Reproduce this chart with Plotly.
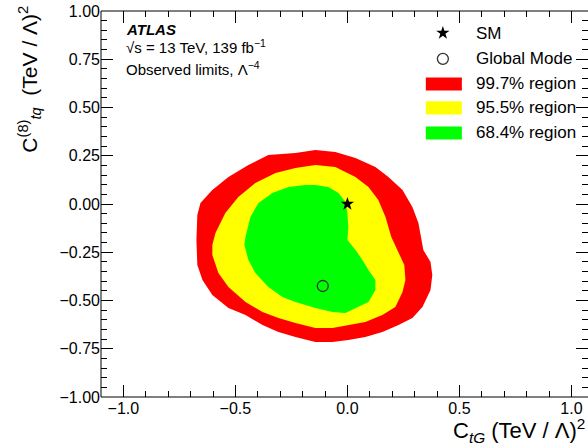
import plotly.graph_objects as go

# ---- data ----
red_x = [-0.143, -0.054, 0.036, 0.125, 0.183, 0.246, 0.290, 0.317, 0.339, 0.371, 0.379, 0.371, 0.335, 0.290,
         0.228, 0.156, 0.080, 0.004, -0.067, -0.143, -0.232, -0.308, -0.379, -0.455, -0.531, -0.603, -0.647,
         -0.670, -0.674, -0.670, -0.656, -0.603, -0.531, -0.442, -0.353, -0.232]
red_y = [0.280, 0.269, 0.238, 0.192, 0.140, 0.073, -0.016, -0.098, -0.238, -0.301, -0.368, -0.446, -0.534, -0.591,
         -0.627, -0.663, -0.689, -0.705, -0.715, -0.715, -0.689, -0.663, -0.627, -0.575, -0.539, -0.472, -0.394,
         -0.316, -0.187, -0.057, 0.005, 0.073, 0.140, 0.202, 0.254, 0.264]

yel_x = [-0.143, -0.054, 0.036, 0.094, 0.138, 0.170, 0.196, 0.223, 0.254, 0.259, 0.246, 0.214, 0.156, 0.080,
         0.004, -0.067, -0.143, -0.232, -0.308, -0.379, -0.455, -0.531, -0.576, -0.603, -0.603, -0.589, -0.545,
         -0.487, -0.411, -0.321, -0.232]
yel_y = [0.202, 0.192, 0.140, 0.088, 0.021, -0.067, -0.171, -0.238, -0.316, -0.394, -0.456, -0.534, -0.575, -0.611,
         -0.627, -0.642, -0.642, -0.617, -0.591, -0.560, -0.508, -0.430, -0.358, -0.264, -0.212, -0.150, -0.047,
         0.036, 0.109, 0.161, 0.187]

grn_x = [-0.143, -0.085, -0.040, -0.009, 0.000, 0.004, 0.000, 0.036, 0.067, 0.094, 0.125, 0.125, 0.094, 0.049,
         -0.009, -0.067, -0.143, -0.232, -0.290, -0.353, -0.411, -0.442, -0.460, -0.455, -0.433, -0.397, -0.335,
         -0.263, -0.188]
grn_y = [0.098, 0.088, 0.057, 0.010, -0.047, -0.119, -0.187, -0.238, -0.290, -0.342, -0.394, -0.446, -0.508, -0.534,
         -0.565, -0.560, -0.539, -0.508, -0.482, -0.430, -0.358, -0.290, -0.212, -0.171, -0.067, 0.005, 0.057,
         0.088, 0.098]

sm_point = (0.0, 0.0)
mode_point = (-0.11, -0.425)

legend_labels = ["SM", "Global Mode", "99.7% region", "95.5% region", "68.4% region"]
region_colors = ["#ff0000", "#ffff00", "#00ff00"]

FONT = "Liberation Sans, Arial, Helvetica, sans-serif"

fig = go.Figure()
for xs, ys, col in [(red_x, red_y, region_colors[0]), (yel_x, yel_y, region_colors[1]), (grn_x, grn_y, region_colors[2])]:
    fig.add_trace(go.Scatter(x=xs + [xs[0]], y=ys + [ys[0]], mode="lines", fill="toself",
                             fillcolor=col, line=dict(width=0, color=col), hoverinfo="skip", showlegend=False))

fig.add_trace(go.Scatter(x=[sm_point[0]], y=[sm_point[1]], mode="markers",
                         marker=dict(symbol="star", size=10, color="black"), showlegend=False))
fig.add_trace(go.Scatter(x=[mode_point[0]], y=[mode_point[1]], mode="markers",
                         marker=dict(symbol="circle-open", size=11, color="#333333", line=dict(width=1.3)),
                         showlegend=False))

# manual legend (fractional positions inside the plot area)
leg_mx = 0.702
leg_y = [0.943, 0.876, 0.811, 0.749, 0.684]
fig.add_trace(go.Scatter(x=[leg_mx], y=[leg_y[0]], xaxis="x2", yaxis="y2", mode="markers",
                         marker=dict(symbol="star", size=10, color="black"), showlegend=False, cliponaxis=False))
fig.add_trace(go.Scatter(x=[leg_mx], y=[leg_y[1]], xaxis="x2", yaxis="y2", mode="markers",
                         marker=dict(symbol="circle-open", size=11, color="#333333", line=dict(width=1.3)),
                         showlegend=False, cliponaxis=False))
for i, col in enumerate(region_colors):
    yc = leg_y[2 + i]
    fig.add_shape(type="rect", xref="paper", yref="paper", x0=0.667, x1=0.741, y0=yc - 0.017, y1=yc + 0.017,
                  fillcolor=col, line=dict(width=0))
for i, lab in enumerate(legend_labels):
    fig.add_annotation(x=0.766, y=leg_y[i], xref="paper", yref="paper", text=lab, showarrow=False,
                       xanchor="left", yanchor="middle", font=dict(family=FONT, size=17, color="black"))

# ATLAS text block
fig.add_annotation(x=0.047, y=0.953, xref="paper", yref="paper", text="<b><i>ATLAS</i></b>", showarrow=False,
                   xanchor="left", yanchor="middle", font=dict(family=FONT, size=15, color="black"))
fig.add_annotation(x=0.047, y=0.907, xref="paper", yref="paper", text="√s = 13 TeV, 139 fb<sup>−1</sup>",
                   showarrow=False, xanchor="left", yanchor="middle", font=dict(family=FONT, size=15, color="black"))
fig.add_annotation(x=0.047, y=0.852, xref="paper", yref="paper", text="Observed limits, Λ<sup>−4</sup>",
                   showarrow=False, xanchor="left", yanchor="middle", font=dict(family=FONT, size=15, color="black"))

# axis titles
fig.add_annotation(x=0.7187, y=-0.0855, xref="paper", yref="paper",
                   text="C<sub><i>tG</i></sub> (TeV / Λ)<sup>2</sup>", showarrow=False,
                   xanchor="left", yanchor="middle", font=dict(family=FONT, size=22, color="black"))
fig.add_annotation(x=-0.146, y=1.02, xref="paper", yref="paper",
                   text="C<sup>(8)</sup><sub><i>tq</i></sub>  (TeV / Λ)<sup>2</sup>", showarrow=False,
                   textangle=-90, xanchor="center", yanchor="top", font=dict(family=FONT, size=21, color="black"))

# frame (right edge lies just outside the visible canvas)
fig.add_shape(type="rect", xref="paper", yref="paper", x0=0, x1=1.01, y0=0, y1=1,
              line=dict(color="black", width=1), fillcolor="rgba(0,0,0,0)", layer="above")

axis_common = dict(showgrid=False, zeroline=False, showline=False, mirror="ticks", ticks="inside",
                   tickcolor="black", tickwidth=1, tickfont=dict(family=FONT, size=16, color="black"))
fig.update_layout(
    width=588, height=444,
    margin=dict(l=101, r=0, t=11, b=47),
    plot_bgcolor="white", paper_bgcolor="white",
    xaxis=dict(range=[-1.1, 1.074], tick0=0, dtick=0.5, tickformat=".1f", ticklen=12,
               minor=dict(dtick=0.1, ticks="inside", ticklen=6, tickcolor="black", showgrid=False),
               **axis_common),
    yaxis=dict(range=[-1.0, 1.0], tick0=0, dtick=0.25, tickformat=".2f", ticklen=12,
               minor=dict(dtick=0.05, ticks="inside", ticklen=6, tickcolor="black", showgrid=False),
               **axis_common),
    xaxis2=dict(overlaying="x", range=[0, 1], visible=False),
    yaxis2=dict(overlaying="y", range=[0, 1], visible=False),
)

fig.write_html("out.html")
